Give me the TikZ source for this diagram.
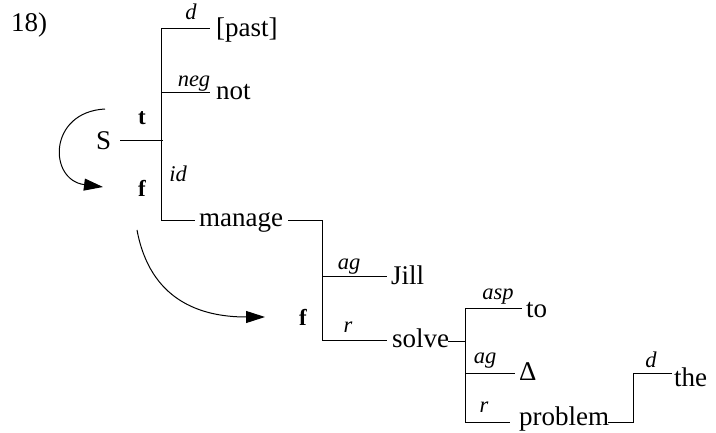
\documentclass[tikz,border=0pt]{standalone}
\usepackage{fontspec}
\setmainfont{Liberation Serif}
\usetikzlibrary{arrows.meta}
\begin{document}
\begin{tikzpicture}[x=1pt,y=-1pt,
  word/.style={font=\fontsize{27}{30}\selectfont, inner sep=0pt, anchor=base west},
  lab/.style={font=\fontsize{22.5}{26}\selectfont\itshape, inner sep=0pt, anchor=base},
  feat/.style={font=\fontsize{23}{26}\selectfont\bfseries, inner sep=0pt, anchor=base},
  branch/.style={line width=1pt},
  turn/.style={line width=1pt, -{Triangle[length=19pt,width=12pt]}}]
\useasboundingbox (0,0) rectangle (716,433);

% coordinates of the tree
\coordinate (top) at (161,29);
\coordinate (pastL) at (210,29);
\coordinate (negJ) at (161,93);
\coordinate (negL) at (210,93);
\coordinate (Sr) at (163,141);
\coordinate (bot) at (161,221);
\coordinate (manL) at (195,221);
\coordinate (manR) at (288,221);
\coordinate (mJ) at (322,221);
\coordinate (agJ) at (322,277);
\coordinate (agL) at (387,277);
\coordinate (rJ) at (322,340);
\coordinate (rL) at (387,340);
\coordinate (solR) at (448,341);
\coordinate (sJ) at (465,341);
\coordinate (aspJ) at (465,309);
\coordinate (aspL) at (522,309);
\coordinate (ag2J) at (465,373);
\coordinate (ag2L) at (515,373);
\coordinate (r2J) at (465,422);
\coordinate (r2L) at (510,422);
\coordinate (probR) at (608,422);
\coordinate (pJ) at (633,422);
\coordinate (dJ) at (633,373);
\coordinate (dL) at (672,373);

% texts
\node[word] (num) at (11,32) {18)};
\node[word] (past) at (216,37) {[past]};
\node[word] (not) at (216,100) {not};
\node[word] (S) at (96,150) {S};
\node[word] (manage) at (199,227) {manage};
\node[word] (jill) at (391,285) {Jill};
\node[word] (solve) at (392,348) {solve};
\node[word] (to) at (526,318) {to};
\node[word] (delta) at (519,380) {Δ};
\node[word] (problem) at (519,425) {problem};
\node[word] (the) at (674,386) {the};

\node[lab] (ld1) at (191,20) {d};
\node[lab] (lneg) at (194,87) {neg};
\node[lab] (lid) at (178,182) {id};
\node[lab] (lag1) at (349,270) {ag};
\node[lab] (lr1) at (348,333) {r};
\node[lab] (lasp) at (498,300) {asp};
\node[lab] (lag2) at (485,363) {ag};
\node[lab] (lr2) at (484,412) {r};
\node[lab] (ld2) at (651,367) {d};

\node[feat] (t) at (142,125) {t};
\node[feat] (f1) at (142,197) {f};
\node[feat] (f2) at (303,326) {f};

% branches
\coordinate (Sl) at (120,141);
\draw[branch] (top) -- (bot);
\draw[branch] (top) -- (pastL);
\draw[branch] (negJ) -- (negL);
\draw[branch] (Sl) -- (Sr);
\draw[branch] (bot) -- (manL);
\draw[branch] (manR) -- (mJ) -- (rJ);
\draw[branch] (agJ) -- (agL);
\draw[branch] (rJ) -- (rL);
\draw[branch] (solR) -- (sJ);
\draw[branch] (aspJ) -- (r2J);
\draw[branch] (aspJ) -- (aspL);
\draw[branch] (ag2J) -- (ag2L);
\draw[branch] (r2J) -- (r2L);
\draw[branch] (probR) -- (pJ) -- (dJ) -- (dL);

% curved arrows
\coordinate (c1s) at (105,109);
\coordinate (c1e) at (103,187);
\draw[turn] (c1s) .. controls (48,112) and (48,180) .. (c1e);
\coordinate (c2s) at (137,230);
\coordinate (c2e) at (265,317);
\draw[turn] (c2s) .. controls (150,300) and (200,317) .. (c2e);
\end{tikzpicture}
\end{document}
